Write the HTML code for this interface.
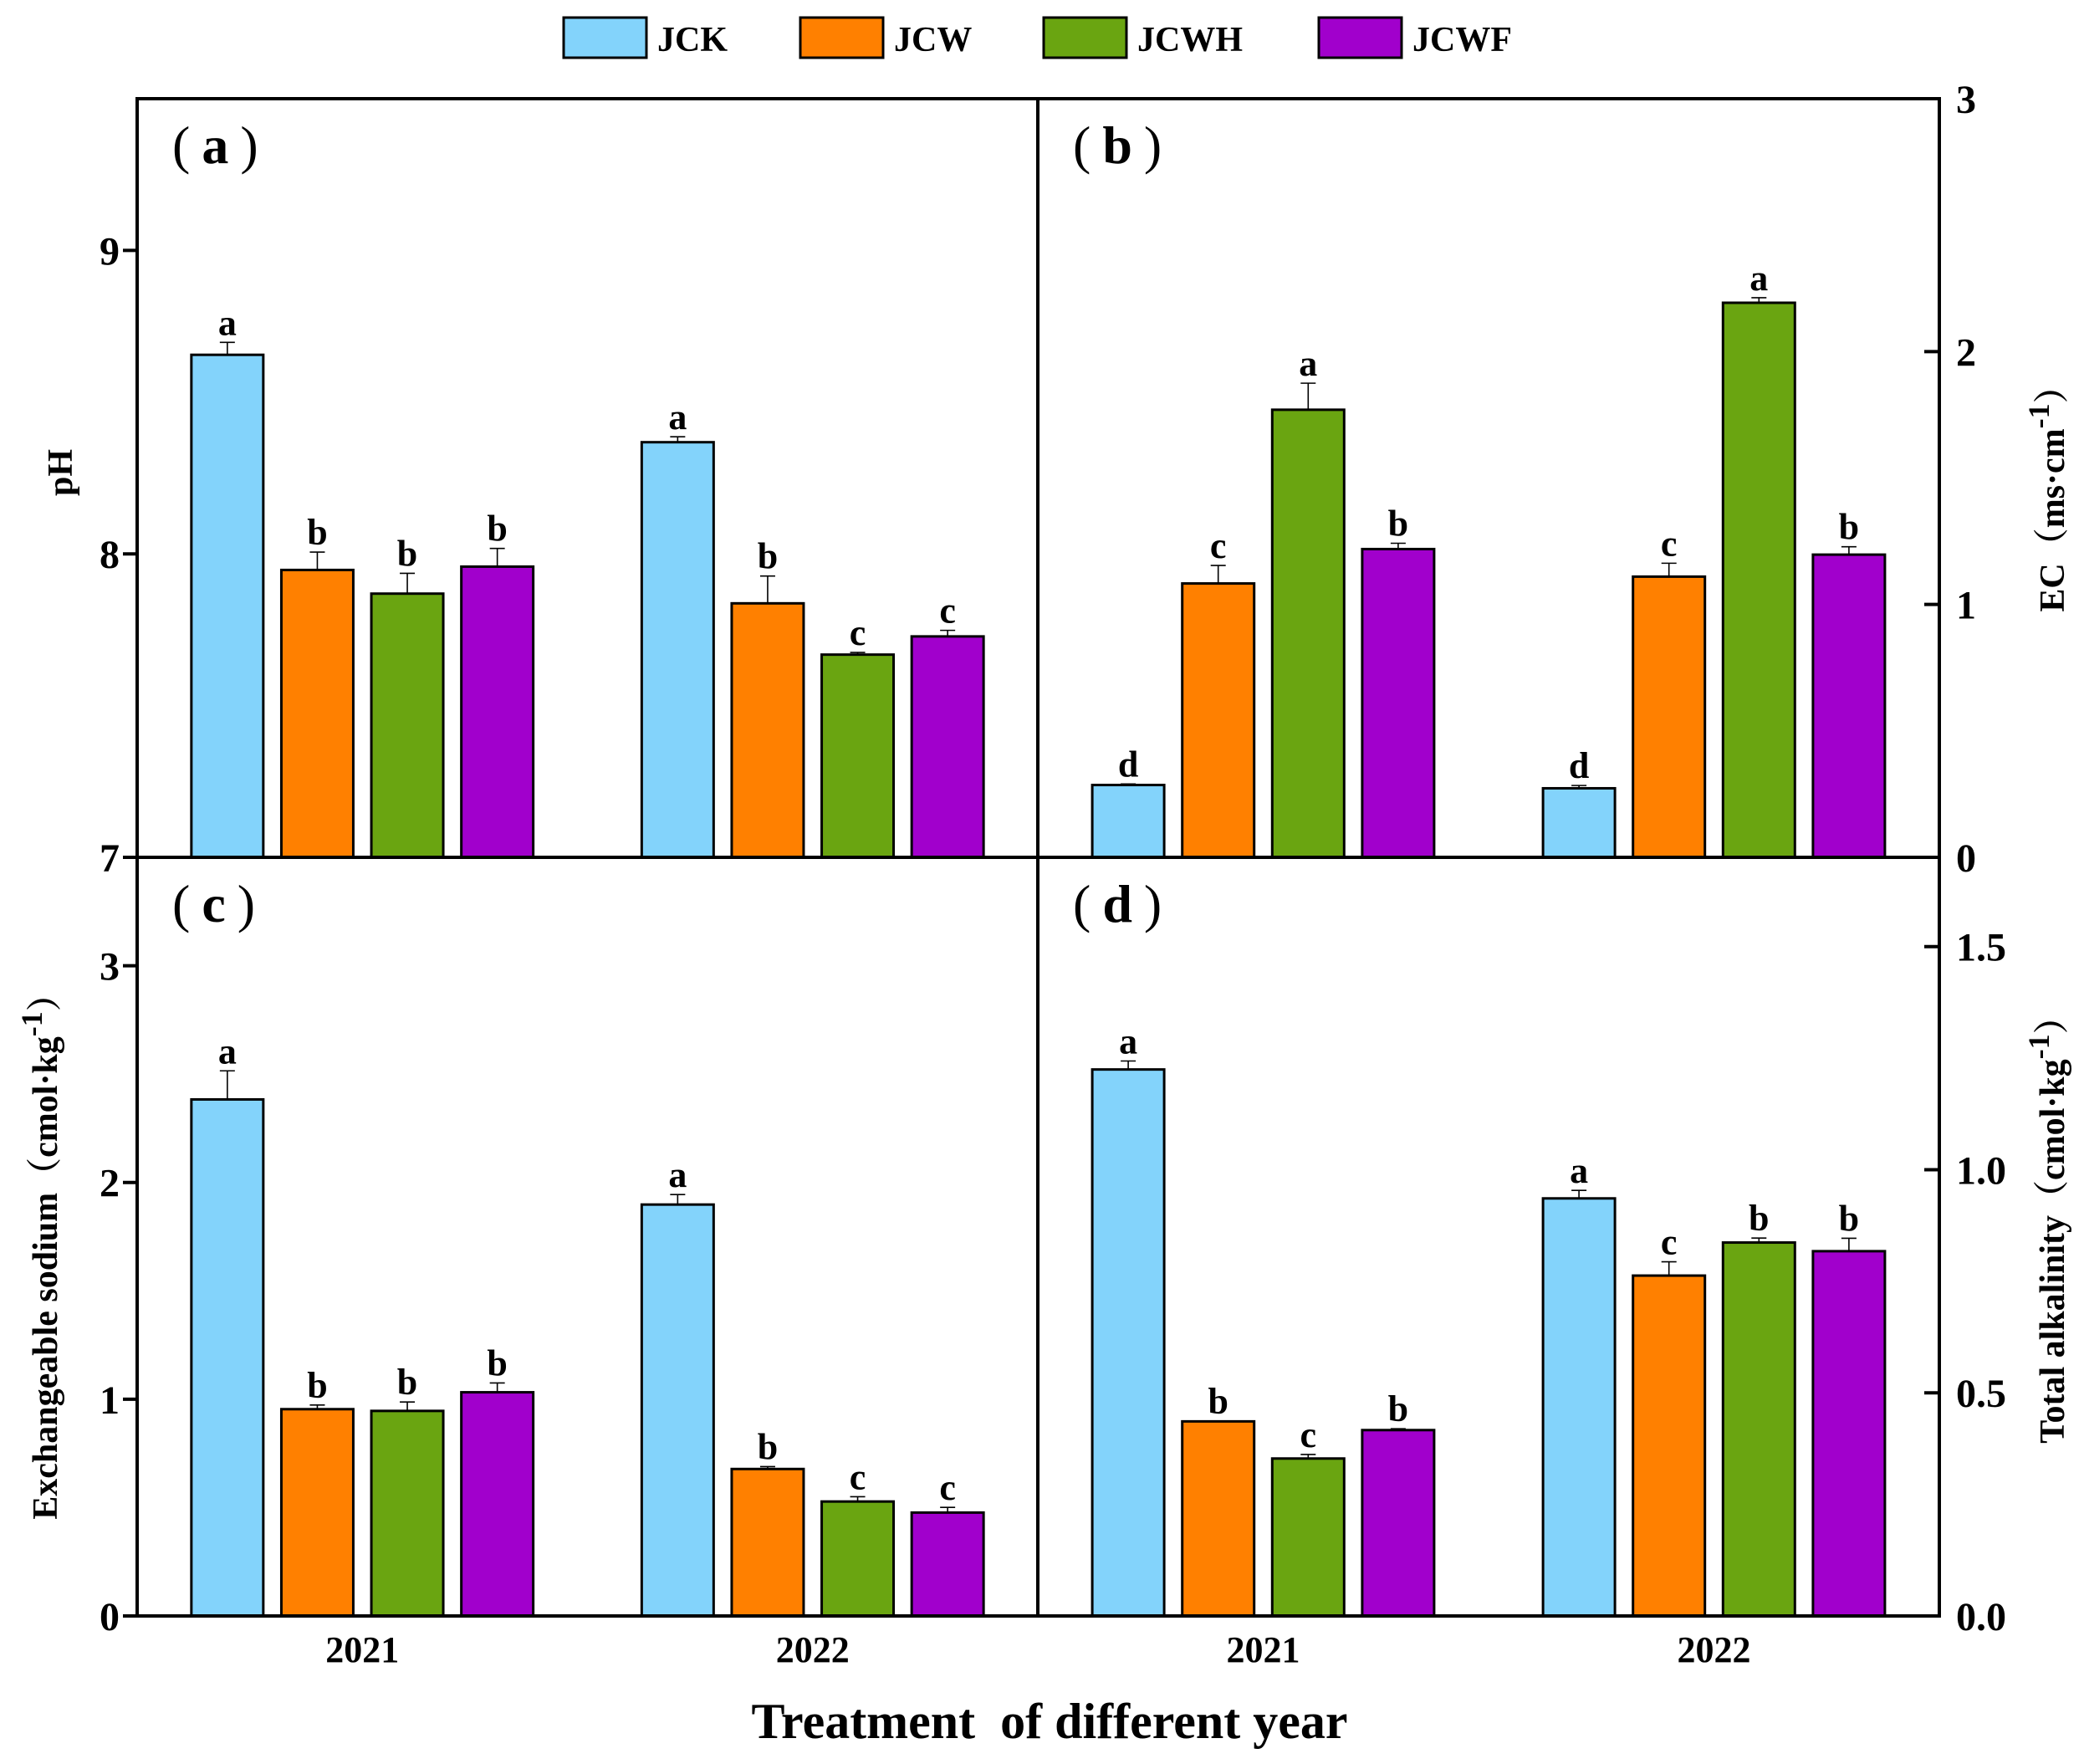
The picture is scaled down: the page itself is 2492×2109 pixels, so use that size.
<!DOCTYPE html>
<html><head><meta charset="utf-8">
<style>
html,body{margin:0;padding:0;background:#fff;}
svg{display:block;}
text{font-family:"Liberation Serif","Noto Serif CJK SC",serif;font-weight:bold;fill:#000;}
</style></head>
<body>
<svg id="chart" width="2492" height="2109" viewBox="0 0 2492 2109" xmlns="http://www.w3.org/2000/svg"></svg>
<script>
// ---- data ----
const years = ["2021", "2022"];
const treatments = ["JCK", "JCW", "JCWH", "JCWF"];
const colors = ["#83D3FB", "#FF8000", "#6AA511", "#A100CC"];
// pH
const phValues = [[8.656, 7.947, 7.869, 7.958], [8.368, 7.837, 7.668, 7.728]];
const phErrors = [[0.041, 0.059, 0.067, 0.060], [0.018, 0.090, 0.007, 0.020]];
const phLetters = [["a", "b", "b", "b"], ["a", "b", "c", "c"]];
const phTicks = [7, 8, 9];
// EC
const ecValues = [[0.286, 1.083, 1.770, 1.219], [0.273, 1.110, 2.193, 1.197]];
const ecErrors = [[0.004, 0.071, 0.105, 0.023], [0.011, 0.053, 0.020, 0.031]];
const ecLetters = [["d", "c", "a", "b"], ["d", "c", "a", "b"]];
const ecTicks = [0, 1, 2, 3];
// Exchangeable sodium
const naValues = [[2.383, 0.954, 0.946, 1.032], [1.898, 0.678, 0.528, 0.477]];
const naErrors = [[0.132, 0.019, 0.041, 0.043], [0.046, 0.011, 0.022, 0.024]];
const naLetters = [["a", "b", "b", "b"], ["a", "b", "c", "c"]];
const naTicks = [0, 1, 2, 3];
// Total alkalinity
const taValues = [[1.2246, 0.436, 0.3528, 0.4165], [0.9357, 0.7627, 0.8368, 0.8174]];
const taErrors = [[0.019, 0.001, 0.009, 0.003], [0.018, 0.031, 0.010, 0.029]];
const taLetters = [["a", "b", "c", "b"], ["a", "c", "b", "b"]];
const taTicks = [0, 0.5, 1.0, 1.5];
const taTickLabels = ["0.0", "0.5", "1.0", "1.5"];

const NS = "http://www.w3.org/2000/svg";
const svg = document.getElementById("chart");
function el(tag, attrs, parent, txt) {
  const e = document.createElementNS(NS, tag);
  for (const k in attrs) e.setAttribute(k, attrs[k]);
  if (txt !== undefined) e.textContent = txt;
  (parent || svg).appendChild(e);
  return e;
}

const L = 164, M = 1241, R = 2319, T = 118, MID = 1025, B = 1932;
const panels = [
  {id: "a", x0: L, x1: M, y0: T, y1: MID, min: 7, max: 9.5, vals: phValues, errs: phErrors, lets: phLetters, ticks: phTicks, tlabels: null, side: "left"},
  {id: "b", x0: M, x1: R, y0: T, y1: MID, min: 0, max: 3, vals: ecValues, errs: ecErrors, lets: ecLetters, ticks: ecTicks, tlabels: null, side: "right"},
  {id: "c", x0: L, x1: M, y0: MID, y1: B, min: 0, max: 3.5, vals: naValues, errs: naErrors, lets: naLetters, ticks: naTicks, tlabels: null, side: "left"},
  {id: "d", x0: M, x1: R, y0: MID, y1: B, min: 0, max: 1.7, vals: taValues, errs: taErrors, lets: taLetters, ticks: taTicks, tlabels: taTickLabels, side: "right"}
];

const pitch = 107.6, barW = 86;
panels.forEach(p => {
  const g = el("g", {});
  
  
  const yS = v => p.y1 - (v - p.min) / (p.max - p.min) * (p.y1 - p.y0);
  const pw = p.x1 - p.x0;
  years.forEach((yr, yi) => {
    const cx = p.x0 + pw * (yi * 2 + 1) / 4;
    treatments.forEach((t, ti) => {
      const bx = cx + (ti - 1.5) * pitch - barW / 2;
      const v = p.vals[yi][ti], e = p.errs[yi][ti];
      const yt = yS(v), ye = yS(v + e);
      const bc = bx + barW / 2;
      const ln = el("line", {x1: bc, x2: bc, y1: yt, y2: ye, stroke: "#000", "stroke-width": 1.6}, g);
      
      
      const cap = el("line", {x1: bc - 9, x2: bc + 9, y1: ye, y2: ye, stroke: "#000", "stroke-width": 1.6}, g);
      
      
      const r = el("rect", {x: bx, y: yt, width: barW, height: p.y1 - yt, fill: colors[ti], stroke: "#000", "stroke-width": 3}, g);
      
      
      const lt = el("text", {x: bc, y: ye - 9, "text-anchor": "middle", "font-size": 44}, g, p.lets[yi][ti]);
      
      
    });
  });
  // ticks
  p.ticks.forEach((tv, i) => {
    const y = yS(tv);
    const lab = p.tlabels ? p.tlabels[i] : String(tv);
    if (p.side === "left") {
      const tk = el("line", {x1: p.x0 - 17, x2: p.x0, y1: y, y2: y, stroke: "#000", "stroke-width": 4}, g);
      
      
      const tl = el("text", {x: 143, y: y + 17, "text-anchor": "end", "font-size": 48}, g, lab);
      
      
    } else {
      const tk = el("line", {x1: p.x1 - 18, x2: p.x1, y1: y, y2: y, stroke: "#000", "stroke-width": 4}, g);
      
      
      const tl = el("text", {x: 2339, y: y + 17, "text-anchor": "start", "font-size": 48}, g, lab);
      
      
    }
  });
  const pl = el("text", {x: p.x0 + 42, y: p.y0 + 77, "font-size": 64}, g);
  
  
  el("tspan", {"font-weight": "normal"}, pl, "(");
  el("tspan", {dx: 14}, pl, p.id);
  el("tspan", {dx: 14, "font-weight": "normal"}, pl, ")");
});

// frame
const frame = el("g", {stroke: "#000", "stroke-width": 4, fill: "none"});


el("rect", {x: L, y: T, width: R - L, height: B - T}, frame);
el("line", {x1: L, x2: R, y1: MID, y2: MID}, frame);
el("line", {x1: M, x2: M, y1: T, y2: B}, frame);

// year labels
[[L, M], [M, R]].forEach(([a, b]) => {
  years.forEach((yr, yi) => {
    const t = el("text", {x: a + (b - a) * (yi * 2 + 1) / 4, y: 1987, "text-anchor": "middle", "font-size": 44}, svg, yr);
    
    
  });
});

// axis titles
const xt = el("text", {x: 1255, y: 2078, "text-anchor": "middle", "font-size": 60}, svg, "Treatment\u00a0 of different year");



function vtitle(name, x, y, parts) {
  const t = el("text", {x: 0, y: 0, "text-anchor": "middle", "font-size": 42, transform: "translate(" + x + "," + y + ") rotate(-90)"});
  
  
  parts.forEach(pt => {
    el("tspan", pt.attrs || {}, t, pt.t);
  });
}
vtitle("y-axis-title-ph", 86, 565, [{t: "pH"}]);
vtitle("y-axis-title-ec", 2468, 586, [{t: "EC\uFF08ms\u00b7cm"}, {t: "-1", attrs: {dy: -18, "font-size": 36}}, {t: "\uFF09", attrs: {dy: 18}}]);
vtitle("y-axis-title-exchangeable-sodium", 68, 1492, [{t: "Exchangeable sodium\uFF08cmol\u00b7kg"}, {t: "-1", attrs: {dy: -18, "font-size": 36}}, {t: "\uFF09", attrs: {dy: 18}}]);
vtitle("y-axis-title-total-alkalinity", 2468, 1460, [{t: "Total alkalinity\uFF08cmol\u00b7kg"}, {t: "-1", attrs: {dy: -18, "font-size": 36}}, {t: "\uFF09", attrs: {dy: 18}}]);

// legend
const legX = [674, 957, 1248, 1577];
treatments.forEach((t, i) => {
  const g = el("g", {});
  
  
  el("rect", {x: legX[i], y: 21, width: 99, height: 48, fill: colors[i], stroke: "#000", "stroke-width": 3}, g);
  el("text", {x: legX[i] + 112, y: 61, "font-size": 42}, g, t);
});
</script>
</body></html>
